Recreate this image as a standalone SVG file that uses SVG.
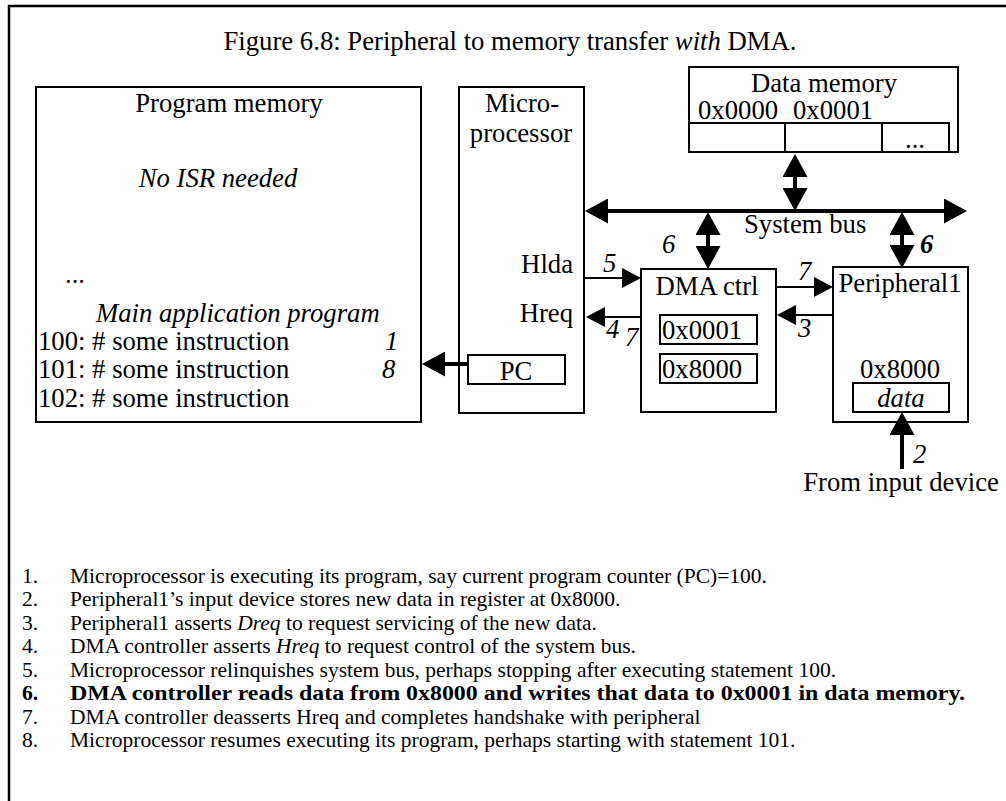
<svg xmlns="http://www.w3.org/2000/svg" width="1006" height="801" viewBox="0 0 1006 801">
<style>
text{font-family:"Liberation Serif","Times New Roman",serif;font-size:26.7px;fill:#000}
.it{font-style:italic}
.bi{font-style:italic;font-weight:bold}
.mid{text-anchor:middle}
.end{text-anchor:end}
.box{fill:#fff;stroke:#000;stroke-width:2}
.reg{fill:none;stroke:#000;stroke-width:2}
.thick{stroke:#000;stroke-width:4;fill:none}
.thin{stroke:#000;stroke-width:2;fill:none}
.list text{font-size:21.5px}
.frame{stroke:#000;stroke-width:2.5;fill:none}
</style>
<defs>
<marker id="big" markerUnits="userSpaceOnUse" markerWidth="23" markerHeight="25" refX="0" refY="12.5" orient="auto-start-reverse" viewBox="0 0 23 25">
<path d="M0,0 L23,12.5 L0,25 Z" fill="#000"/>
</marker>
<marker id="small" markerUnits="userSpaceOnUse" markerWidth="19" markerHeight="20" refX="0" refY="10" orient="auto-start-reverse" viewBox="0 0 19 20">
<path d="M0,0 L19,10 L0,20 Z" fill="#000"/>
</marker>
</defs>
<rect width="1006" height="801" fill="#fff"/>
<path class="frame" d="M9,801 V6 H1006"/>
<text x="510" y="50" class="mid">Figure 6.8: Peripheral to memory transfer <tspan class="it">with</tspan> DMA.</text>

<g id="program-memory">
<rect class="box" x="36" y="87" width="385" height="335"/>
<text x="229" y="112" class="mid">Program memory</text>
<text x="218" y="187" class="mid it">No ISR needed</text>
<text x="65" y="283">...</text>
<text x="96" y="322" class="it">Main application program</text>
<text x="38" y="350">100: # some instruction</text>
<text x="38" y="378">101: # some instruction</text>
<text x="38" y="407">102: # some instruction</text>
<text x="385" y="350" class="it">1</text>
<text x="382" y="378" class="it">8</text>
</g>

<g id="microprocessor">
<rect class="box" x="459" y="87" width="125" height="326"/>
<text x="522" y="112" class="mid">Micro-</text>
<text x="521" y="142" class="mid">processor</text>
<text x="573" y="273" class="end">Hlda</text>
<text x="573" y="322" class="end">Hreq</text>
<rect class="reg" x="468" y="355" width="97" height="29"/>
<text x="516" y="380" class="mid">PC</text>
</g>

<g id="data-memory">
<rect class="box" x="689" y="67" width="269" height="85"/>
<text x="824" y="92" class="mid">Data memory</text>
<text x="698" y="119">0x0000</text>
<text x="793" y="119">0x0001</text>
<rect class="reg" x="689" y="123" width="260" height="29"/>
<line class="reg" x1="785" y1="123" x2="785" y2="152"/>
<line class="reg" x1="882" y1="123" x2="882" y2="152"/>
<text x="915" y="148" class="mid">...</text>
</g>

<g id="dma-ctrl">
<rect class="box" x="641" y="269" width="135" height="143"/>
<text x="707" y="295" class="mid">DMA ctrl</text>
<rect class="reg" x="660" y="315" width="97" height="29"/>
<text x="662" y="339">0x0001</text>
<rect class="reg" x="660" y="354" width="97" height="29"/>
<text x="662" y="378">0x8000</text>
</g>

<g id="peripheral1">
<rect class="box" x="833" y="267" width="135" height="155"/>
<text x="900" y="292" class="mid">Peripheral1</text>
<text x="900" y="378" class="mid">0x8000</text>
<rect class="reg" x="853" y="383" width="96" height="29"/>
<text x="901" y="407" class="mid it">data</text>
</g>

<g id="input-device">
<text x="901" y="491" class="mid">From input device</text>
</g>

<g id="connectors">
<line class="thick" x1="608" y1="211" x2="944" y2="211" marker-start="url(#big)" marker-end="url(#big)"/>
<line class="thick" x1="795" y1="177" x2="795" y2="188" marker-start="url(#big)" marker-end="url(#big)"/>
<line class="thick" x1="708" y1="235" x2="708" y2="246" marker-start="url(#big)" marker-end="url(#big)"/>
<line class="thick" x1="902" y1="235" x2="902" y2="245" marker-start="url(#big)" marker-end="url(#big)"/>
<line class="thick" x1="902" y1="469" x2="902" y2="435" marker-end="url(#big)"/>
<line class="thick" x1="468" y1="364" x2="445" y2="364" marker-end="url(#big)"/>
<line class="thin" x1="584" y1="278" x2="622" y2="278" marker-end="url(#small)"/>
<line class="thin" x1="641" y1="317" x2="605" y2="317" marker-end="url(#small)"/>
<line class="thin" x1="776" y1="287" x2="814" y2="287" marker-end="url(#small)"/>
<line class="thin" x1="833" y1="315" x2="796" y2="315" marker-end="url(#small)"/>
<text x="744" y="233">System bus</text>
<text x="603" y="272" class="it">5</text>
<text x="606" y="338" class="it">4</text>
<text x="625" y="346" class="it">7</text>
<text x="662" y="253" class="it">6</text>
<text x="798" y="280" class="it">7</text>
<text x="798" y="337" class="it">3</text>
<text x="920" y="253" class="bi">6</text>
<text x="913" y="463" class="it">2</text>
</g>

<g class="list">
<text x="22" y="583">1.</text><text x="70" y="583">Microprocessor is executing its program, say current program counter (PC)=100.</text>
<text x="22" y="606">2.</text><text x="70" y="606">Peripheral1’s input device stores new data in register at 0x8000.</text>
<text x="22" y="630">3.</text><text x="70" y="630">Peripheral1 asserts <tspan class="it">Dreq</tspan> to request servicing of the new data.</text>
<text x="22" y="653">4.</text><text x="70" y="653">DMA controller asserts <tspan class="it">Hreq</tspan> to request control of the system bus.</text>
<text x="22" y="677">5.</text><text x="70" y="677">Microprocessor relinquishes system bus, perhaps stopping after executing statement 100.</text>
<text x="22" y="700" font-weight="bold">6.</text><text x="70" y="700" font-weight="bold" textLength="895" lengthAdjust="spacingAndGlyphs">DMA controller reads data from 0x8000 and writes that data to 0x0001 in data memory.</text>
<text x="22" y="724">7.</text><text x="70" y="724">DMA controller deasserts Hreq and completes handshake with peripheral</text>
<text x="22" y="747">8.</text><text x="70" y="747">Microprocessor resumes executing its program, perhaps starting with statement 101.</text>
</g>
</svg>
